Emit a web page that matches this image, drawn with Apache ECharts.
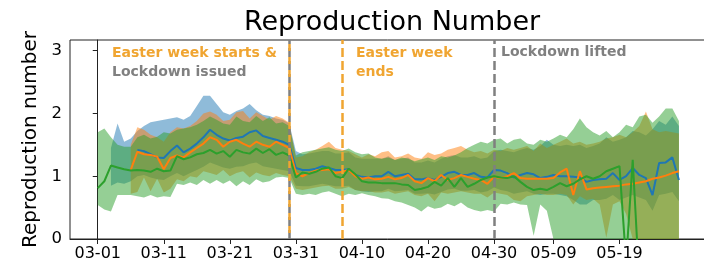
<!DOCTYPE html>
<html lang="en">
<head>
<meta charset="UTF-8">
<title>Reproduction Number</title>
<script src="https://cdn.jsdelivr.net/npm/echarts@6/dist/echarts.min.js"></script>
<style>
  html, body { margin: 0; padding: 0; background: #fff; }
  #chart { width: 704px; height: 263px; }
</style>
</head>
<body>
<div id="chart"></div>
<script>
// day index 0 = 03-01, last day 88 = 05-28
var tickDays   = [0, 10, 20, 30, 40, 50, 60, 69, 79];
var tickLabels = ['03-01', '03-11', '03-21', '03-31', '04-10', '04-20', '04-30', '05-09', '05-19'];
var yTicks = [0, 1, 2, 3];

var eventDays   = [29, 29, 37, 60];
var eventColors = ['gray', 'orange', 'orange', 'gray'];

var blueMean = [null,null,null,null,null,null,
  1.42,1.40,1.35,1.30,1.29,1.40,1.49,1.38,1.44,1.52,
  1.62,1.74,1.66,1.60,1.57,1.61,1.63,1.70,1.73,1.64,
  1.61,1.58,1.55,1.50,1.13,1.10,1.10,1.12,1.16,1.13,
  1.10,1.10,1.11,1.02,0.99,0.98,1.00,1.00,1.07,1.00,
  1.02,1.04,0.95,0.95,0.97,0.94,0.99,1.05,1.07,1.02,
  1.02,1.05,0.99,0.98,1.10,1.09,1.05,0.98,1.02,1.05,
  1.03,0.97,0.99,1.02,1.00,1.00,0.99,0.98,0.91,0.94,
  0.95,0.96,1.05,0.94,1.00,1.13,1.02,0.97,0.70,1.21,
  1.22,1.30,0.94];
var blueLow = [null,null,
  0.85,0.90,0.88,0.92,1.00,1.02,0.98,0.95,0.94,1.00,
  1.05,1.00,1.05,1.10,1.15,1.22,1.18,1.14,1.12,1.15,
  1.16,1.20,1.22,1.16,1.14,1.12,1.10,1.08,0.85,0.84,
  0.84,0.86,0.88,0.86,0.84,0.84,0.85,0.78,0.76,0.75,
  0.76,0.76,0.80,0.76,0.77,0.78,0.72,0.72,0.73,0.71,
  0.75,0.79,0.80,0.77,0.77,0.78,0.74,0.76,0.82,0.78,
  0.76,0.72,0.74,0.76,0.72,0.70,0.72,0.72,0.70,0.68,
  0.62,0.55,0.55,0.62,0.62,0.64,0.70,0.62,0.66,0.70,
  0.66,0.62,0.45,0.70,0.72,0.75,0.60];
var blueHigh = [null,null,
  1.45,1.84,1.55,1.60,1.72,1.80,1.86,1.88,1.90,1.92,
  1.94,1.90,1.96,2.12,2.28,2.28,2.15,2.02,1.98,2.04,
  2.08,2.15,2.05,1.98,1.96,1.92,1.90,1.84,1.40,1.35,
  1.36,1.38,1.40,1.40,1.36,1.36,1.38,1.30,1.28,1.28,
  1.28,1.28,1.32,1.26,1.28,1.30,1.22,1.22,1.25,1.22,
  1.28,1.32,1.34,1.30,1.30,1.32,1.28,1.30,1.40,1.42,
  1.40,1.38,1.42,1.45,1.42,1.48,1.58,1.50,1.48,1.50,
  1.48,1.50,1.45,1.48,1.52,1.62,1.55,1.58,1.62,1.72,
  1.70,1.65,1.75,1.88,1.82,1.95,1.80];

var orangeMean = [null,null,null,null,null,
  1.10,1.39,1.35,1.34,1.31,1.11,1.29,1.33,1.30,1.38,
  1.45,1.52,1.62,1.58,1.47,1.55,1.58,1.52,1.47,1.55,
  1.50,1.47,1.55,1.50,1.45,1.05,1.00,1.05,1.09,1.10,
  1.11,1.05,1.07,1.10,1.00,0.96,0.98,0.95,0.96,0.99,
  0.95,0.97,1.02,0.92,0.89,0.97,0.92,1.02,0.94,0.97,
  1.02,0.99,0.96,0.94,0.88,0.99,0.97,1.00,1.05,0.97,
  0.96,0.96,0.96,0.96,0.97,1.06,1.12,0.70,1.08,0.79,
  0.81,0.82,0.83,0.84,0.85,0.87,0.88,0.90,0.92,0.96,
  0.98,1.01,1.05,1.08];
var orangeLow = [null,null,null,null,null,
  0.72,0.75,0.98,0.76,0.96,0.74,0.80,0.95,0.92,1.00,
  0.98,1.08,1.05,1.02,1.10,1.00,1.05,1.08,0.98,1.06,
  1.02,1.00,1.05,1.02,1.00,0.80,0.78,0.80,0.82,0.84,
  0.85,0.80,0.80,0.83,0.78,0.76,0.76,0.74,0.74,0.76,
  0.72,0.74,0.76,0.70,0.68,0.72,0.60,0.74,0.72,0.74,
  0.76,0.74,0.72,0.72,0.66,0.74,0.72,0.70,0.62,0.60,
  0.68,0.70,0.72,0.70,0.70,0.72,0.70,0.55,0.68,0.62,
  0.64,0.55,0.02,0.55,0.60,0.40,0,0,0,0,
  0,0,0,0];
var orangeHigh = [null,null,null,null,null,
  1.50,1.78,1.74,1.66,1.62,1.55,1.70,1.78,1.76,1.80,
  1.88,2.00,2.03,1.98,1.88,1.90,2.02,2.04,1.92,2.02,
  1.96,1.90,1.96,1.92,1.85,1.30,1.32,1.38,1.42,1.48,
  1.55,1.45,1.42,1.40,1.35,1.30,1.35,1.32,1.38,1.40,
  1.30,1.32,1.36,1.30,1.28,1.38,1.34,1.36,1.42,1.45,
  1.48,1.42,1.38,1.40,1.36,1.42,1.40,1.45,1.42,1.45,
  1.48,1.40,1.52,1.45,1.50,1.55,1.60,1.52,1.55,1.50,
  1.52,1.55,1.60,1.62,1.66,1.62,1.70,1.80,2.03,1.75,
  1.70,1.72,1.70,1.68];

var greenMean = [
  0.81,0.92,1.17,1.14,1.11,1.09,1.10,1.09,1.07,1.12,
  1.08,1.09,1.32,1.27,1.30,1.35,1.37,1.42,1.36,1.40,
  1.31,1.42,1.38,1.36,1.44,1.37,1.43,1.34,1.38,1.33,
  0.98,1.06,1.04,1.07,1.12,1.14,1.00,0.97,1.12,1.03,
  0.92,0.90,0.90,0.89,0.89,0.89,0.87,0.86,0.78,0.80,
  0.83,0.91,0.85,0.97,0.83,0.97,0.83,0.88,0.94,0.98,
  1.00,0.98,0.97,1.00,0.91,0.83,0.78,0.80,0.78,0.83,
  0.89,0.84,0.88,0.95,1.00,0.96,1.00,1.08,1.12,1.16,
  -0.37,1.26,-0.70,-0.80,-0.80,-0.80,-0.80,-0.80,-0.80];
var greenLow = [
  0.54,0.47,0.44,0.70,0.70,0.70,0.68,0.66,0.70,0.66,
  0.68,0.67,0.88,0.86,0.90,0.86,0.94,0.88,0.94,0.88,
  0.93,0.84,0.92,0.86,0.95,0.90,0.92,0.98,0.99,0.97,
  0.72,0.70,0.72,0.70,0.74,0.76,0.72,0.68,0.72,0.70,
  0.73,0.70,0.68,0.65,0.64,0.60,0.58,0.54,0.50,0.44,
  0.52,0.48,0.50,0.56,0.52,0.58,0.50,0.46,0.44,0.46,
  0.44,0.56,0.55,0.58,0.55,0.54,0.05,0.55,0.45,0,
  0,0,0,0,0,0,0,0,0,0,
  0,0,0,0,0,0,0,0,0];
var greenHigh = [
  1.70,1.76,1.62,1.50,1.47,1.47,1.62,1.66,1.60,1.63,
  1.70,1.68,1.74,1.76,1.78,1.82,1.88,1.95,1.90,1.84,
  1.82,1.95,1.88,1.86,1.96,1.88,1.94,1.84,1.86,1.80,
  1.33,1.38,1.40,1.42,1.44,1.46,1.42,1.40,1.44,1.38,
  1.35,1.36,1.30,1.28,1.30,1.26,1.30,1.28,1.24,1.27,
  1.30,1.26,1.32,1.30,1.33,1.38,1.45,1.50,1.55,1.52,
  1.58,1.60,1.52,1.58,1.60,1.52,1.50,1.58,1.55,1.60,
  1.66,1.62,1.75,1.92,1.78,1.70,1.65,1.72,1.62,1.70,
  1.82,1.78,1.95,1.98,1.85,1.95,2.08,2.08,1.88];

var COLORS = { blue: '#1f77b4', orange: '#ff7f0e', green: '#2ca02c' };
var EVENT = { gray: '#808080', orange: '#f0a531' };
var FONT = 'DejaVu Sans';

function pairs(arr) {
  var out = [];
  arr.forEach(function (v, i) { if (v !== null) out.push([i, v]); });
  return out;
}

// confidence band: one polygon through the upper values and back along the lower ones
function band(lo, hi, color) {
  var data = [];
  lo.forEach(function (v, i) { if (v !== null) data.push([i, v, hi[i]]); });
  return {
    type: 'custom', silent: true, clip: true,
    data: data,
    encode: { x: 0, y: [1, 2] },
    renderItem: function (params, api) {
      if (params.dataIndexInside !== 0) return null;
      var top = [], bottom = [];
      for (var k = 0; k < params.dataInsideLength; k++) {
        var x = api.value(0, k);
        top.push(api.coord([x, api.value(2, k)]));
        bottom.unshift(api.coord([x, api.value(1, k)]));
      }
      return {
        type: 'polygon',
        shape: { points: top.concat(bottom) },
        style: { fill: color, opacity: 0.5 }
      };
    }
  };
}

function meanLine(key, arr, color) {
  return { type: 'line', name: key, data: pairs(arr), symbol: 'none', silent: true,
           lineStyle: { color: color, width: 2 } };
}

var eventLines = eventDays.map(function (d, i) {
  var ls = { color: EVENT[eventColors[i]], width: 2.5, type: [9, 4] };
  if (i === 1) ls = { color: EVENT.orange, width: 2.5, type: [7, 6], dashOffset: 7 };
  return { xAxis: d, lineStyle: ls };
});

var series = [
  band(blueLow, blueHigh, COLORS.blue),
  band(orangeLow, orangeHigh, COLORS.orange),
  band(greenLow, greenHigh, COLORS.green),
  meanLine('blue', blueMean, COLORS.blue),
  meanLine('orange', orangeMean, COLORS.orange)
];
var g = meanLine('green', greenMean, COLORS.green);
g.markLine = { symbol: 'none', silent: true, label: { show: false }, data: eventLines };
series.push(g);

function note(text, x, y, color) {
  return { type: 'text', x: x, y: y, silent: true,
           style: { text: text, fill: color, font: 'bold 14px "' + FONT + '"',
                    textVerticalAlign: 'top' } };
}

var chart = echarts.init(document.getElementById('chart'));
chart.setOption({
  animation: false,
  title: {
    text: 'Reproduction Number', left: 387, textAlign: 'center', top: 4,
    textStyle: { fontFamily: FONT, fontSize: 27, fontWeight: 'normal', color: '#000' }
  },
  grid: { left: 70, right: -4, top: 40, bottom: 24, show: true,
          borderColor: '#222', borderWidth: 1, outerBoundsMode: 'none' },
  xAxis: {
    type: 'value', min: -4.2, max: 92.4,
    axisLine: { lineStyle: { color: '#222', width: 1 } },
    axisTick: { customValues: tickDays, length: 5, lineStyle: { color: '#222' } },
    axisLabel: {
      customValues: tickDays, margin: 7, color: '#000', fontFamily: FONT, fontSize: 16,
      formatter: function (v) { var k = tickDays.indexOf(v); return k >= 0 ? tickLabels[k] : ''; }
    },
    splitLine: { show: false }
  },
  yAxis: {
    type: 'value', min: 0, max: 3.17,
    name: 'Reproduction number', nameLocation: 'middle', nameGap: 26,
    nameTextStyle: { fontFamily: FONT, fontSize: 20, color: '#000' },
    axisLine: { show: true, lineStyle: { color: '#222', width: 1 } },
    axisTick: { show: true, customValues: yTicks, length: 5, lineStyle: { color: '#222' } },
    axisLabel: { customValues: yTicks, margin: 8, color: '#000', fontFamily: FONT, fontSize: 16.5 },
    splitLine: { show: false }
  },
  graphic: [
    note('Easter week starts &', 112, 46, EVENT.orange),
    note('Lockdown issued', 112, 65, EVENT.gray),
    note('Easter week', 356, 46, EVENT.orange),
    note('ends', 356, 65, EVENT.orange),
    note('Lockdown lifted', 501, 45, EVENT.gray)
  ],
  series: series
});
</script>
</body>
</html>
